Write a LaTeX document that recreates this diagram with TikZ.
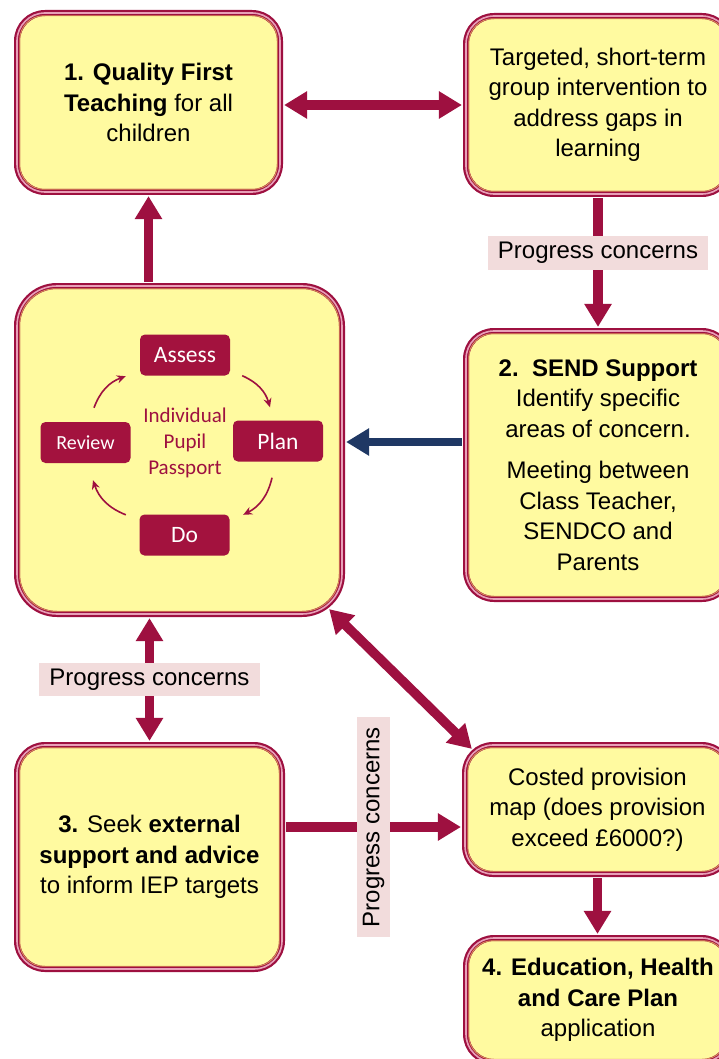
\documentclass[tikz,border=0pt]{standalone}
\usepackage{fontspec}
\setmainfont{Liberation Sans}
\newfontfamily\carl{Carlito}
\usetikzlibrary{arrows.meta}
\definecolor{crim}{RGB}{158,16,64}
\definecolor{crimbox}{RGB}{163,18,62}
\definecolor{pinkline}{RGB}{232,160,184}
\definecolor{yel}{RGB}{255,250,160}
\definecolor{orl}{RGB}{222,150,90}
\definecolor{lab}{RGB}{242,220,220}
\definecolor{navy}{RGB}{31,56,100}
\begin{document}
\begin{tikzpicture}[x=1pt,y=-1pt,
  box/.style={draw=crim, double=pinkline, line width=2.2pt, double distance=1.6pt,
    fill=yel, rounded corners=28pt, inner sep=0pt, align=center,
    font=\fontsize{24}{30.5}\selectfont},
  arr/.style={draw=crim, line width=9.5pt, -{Triangle[length=23pt,width=26pt]},
    shorten >=3pt, shorten <=3pt},
  dblarr/.style={arr, {Triangle[length=23pt,width=26pt]}-{Triangle[length=23pt,width=26pt]}},
  bluearr/.style={arr, draw=navy, line width=8pt},
  lbl/.style={fill=lab, font=\fontsize{24}{28}\selectfont, inner xsep=10pt, inner ysep=6pt},
  cbox/.style={fill=crimbox, rounded corners=5pt, text=white,
    font=\carl\fontsize{23.5}{25}\selectfont, minimum width=90pt, minimum height=41pt, inner sep=0pt},
  carr/.style={draw=crim, line width=1.6pt, -{Stealth[length=9pt,width=8pt]}, bend left=25},
  innerline/.style={draw=orl, line width=0.8pt}
]
\useasboundingbox (0,0) rectangle (719,1059);
\clip (0,0) rectangle (719,1059);
\fill[white] (0,0) rectangle (719,1059);

% main boxes
\node[box, minimum width=263pt, minimum height=179pt] (q1) at (148.5,102.5)
  {\textbf{1. Quality First}\\\textbf{Teaching} for all\\children};
\node[box, minimum width=264pt, minimum height=178pt] (tg) at (598,105)
  {Targeted, short-term\\group intervention to\\address gaps in\\learning};
\node[box, rounded corners=40pt, minimum width=325pt, minimum height=328pt] (pp) at (179.5,450) {};
\node[box, minimum width=264pt, minimum height=268pt] (send) at (598,465)
  {\textbf{2.\ \ SEND Support}\\Identify specific\\areas of concern.\\[11pt]Meeting between\\Class Teacher,\\SENDCO and\\Parents};
\node[box, minimum width=265pt, minimum height=224pt] (b3) at (149.5,857)
  {\textbf{3.} Seek \textbf{external}\\\textbf{support and advice}\\to inform IEP targets};
\node[box, minimum width=265pt, minimum height=129pt] (cost) at (597.5,809.5)
  {Costed provision\\map (does provision\\exceed £6000?)};
\node[box, minimum width=264pt, minimum height=124pt] (b4) at (598,1000)
  {\textbf{4. Education, Health}\\\textbf{and Care Plan}\\application};

\foreach \n/\r in {q1/24,tg/24,pp/36,send/24,b3/24,cost/24,b4/24}
  \draw[innerline, rounded corners=\r pt] ([shift={(3.8,3.8)}]\n.north west) rectangle ([shift={(-3.8,-3.8)}]\n.south east);

% cycle
\node[cbox] (assess) at (185,355) {Assess};
\node[cbox] (plan) at (278,441) {Plan};
\node[cbox, font=\carl\fontsize{20}{22}\selectfont] (review) at (85.5,442.5) {Review};
\node[cbox] (do) at (184.5,535) {Do};
\node[align=center, text=crim, font=\carl\fontsize{21}{26}\selectfont] (ipp) at (185,443)
  {Individual\\Pupil\\Passport};
\draw[carr] ([shift={(12,0)}]assess.south east) to ([shift={(-8,-13)}]plan.north);
\draw[carr] ([shift={(-6,16)}]plan.south) to ([shift={(13.5,0.5)}]do.north east);
\draw[carr] ([shift={(-13.5,0.5)}]do.north west) to ([shift={(7.5,17)}]review.south);
\draw[carr] ([shift={(8.5,-14)}]review.north) to ([shift={(-14,0.5)}]assess.south west);

% connectors
\draw[dblarr] (q1.east |- tg.west) -- (tg.west);
\draw[arr] (tg.south) -- (send.north) node[lbl, pos=0.43] (l1) {Progress concerns};
\draw[arr] (q1.south |- pp.north) -- (q1.south);
\draw[bluearr] ([yshift=23pt]send.west) -- ([yshift=23pt]send.west -| pp.east);
\draw[dblarr] (b3.north |- pp.south) -- (b3.north) node[lbl, midway] (l2) {Progress concerns};
\draw[dblarr, shorten <=0pt, shorten >=0pt] ([shift={(-14,-6)}]pp.south east) -- ([shift={(8,5)}]cost.north west);
\draw[arr] ([yshift=30pt]b3.east) -- ([yshift=30pt]b3.east -| cost.west) node[lbl, midway, rotate=90] (l3) {Progress concerns};
\draw[arr] (cost.south) -- (cost.south |- b4.north);
\end{tikzpicture}
\end{document}
